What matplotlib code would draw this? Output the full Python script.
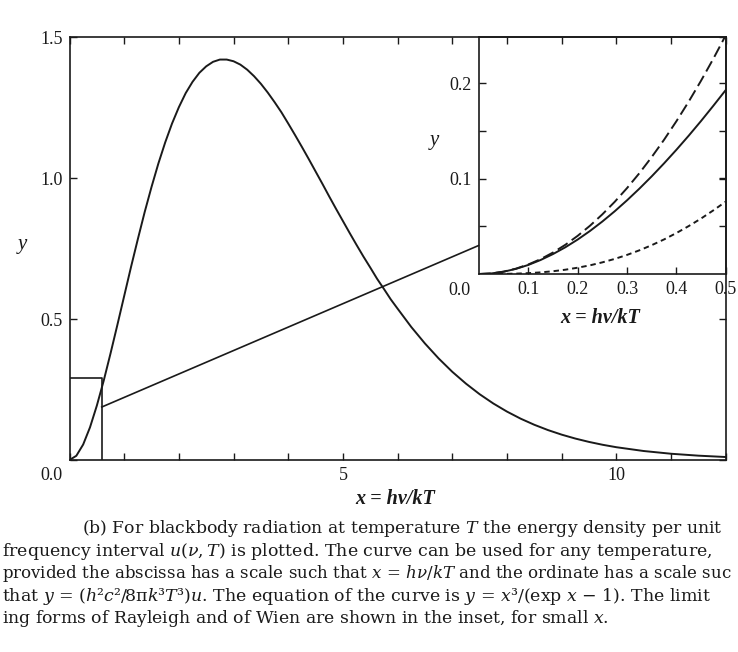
import numpy as np
import matplotlib.pyplot as plt

plt.rcParams['font.family'] = ['Liberation Serif', 'DejaVu Serif']
plt.rcParams['mathtext.fontset'] = 'dejavuserif'

# main curve y = x^3/(exp x - 1)
x_main = [0, 0.125, 0.25, 0.375, 0.5, 0.625, 0.75, 0.875, 1.0, 1.125, 1.25,
          1.375, 1.5, 1.625, 1.75, 1.875, 2.0, 2.125, 2.25, 2.375, 2.5, 2.625,
          2.75, 2.875, 3.0, 3.125, 3.25, 3.375, 3.5, 3.625, 3.75, 3.875, 4.0,
          4.125, 4.25, 4.375, 4.5, 4.625, 4.75, 4.875, 5.0, 5.125, 5.25, 5.375,
          5.5, 5.625, 5.75, 5.875, 6.0, 6.25, 6.5, 6.75, 7.0, 7.25, 7.5, 7.75,
          8.0, 8.25, 8.5, 8.75, 9.0, 9.25, 9.5, 9.75, 10.0, 10.5, 11.0, 11.5,
          12.0]
y_main = [0, 0.015, 0.055, 0.116, 0.193, 0.281, 0.378, 0.479, 0.582, 0.685,
          0.784, 0.880, 0.969, 1.052, 1.127, 1.194, 1.252, 1.302, 1.342, 1.374,
          1.397, 1.413, 1.421, 1.421, 1.415, 1.403, 1.385, 1.362, 1.335, 1.304,
          1.270, 1.234, 1.194, 1.153, 1.111, 1.068, 1.024, 0.980, 0.935, 0.891,
          0.848, 0.805, 0.763, 0.722, 0.683, 0.643, 0.607, 0.570, 0.537, 0.472,
          0.4135, 0.3605, 0.313, 0.271, 0.2335, 0.2006, 0.1718, 0.1467, 0.125,
          0.1062, 0.090, 0.0761, 0.0642, 0.054, 0.0454, 0.0319, 0.0222, 0.0154,
          0.0106]

# the small-x box and the line leading to the inset
box_x = [0, 0.59, 0.59]
box_y = [0.29, 0.29, 0]
link_x = [0.59, 7.48]
link_y = [0.188, 0.761]

# inset: planck, rayleigh (long dash), wien (short dash)
x_ins = [0, 0.025, 0.05, 0.075, 0.1, 0.125, 0.15, 0.175, 0.2, 0.225, 0.25,
         0.275, 0.3, 0.325, 0.35, 0.375, 0.4, 0.425, 0.45, 0.475, 0.5]
y_planck = [0, 0.0006, 0.0024, 0.0054, 0.0095, 0.0147, 0.0209, 0.0280, 0.0361,
            0.0451, 0.0550, 0.0657, 0.0772, 0.0894, 0.1023, 0.1159, 0.1301,
            0.1449, 0.1603, 0.1763, 0.1927]
y_rayleigh = [0, 0.0006, 0.0025, 0.0056, 0.01, 0.0156, 0.0225, 0.0306, 0.04,
              0.0506, 0.0625, 0.0756, 0.09, 0.1056, 0.1225, 0.1406, 0.16,
              0.1806, 0.2025, 0.2256, 0.25]
y_wien = [0, 0.00002, 0.0001, 0.0004, 0.0009, 0.0017, 0.0029, 0.0045, 0.0066,
          0.0091, 0.0122, 0.0158, 0.0200, 0.0248, 0.0302, 0.0362, 0.0429,
          0.0502, 0.0581, 0.0667, 0.0758]

main_xlabels = {5: '5', 10: '10'}
main_yticks = [0, 0.5, 1.0, 1.5]
main_ylabels = ['', '0.5', '1.0', '1.5']
ins_xticks = [0.1, 0.2, 0.3, 0.4, 0.5]
ins_xlabels = ['0.1', '0.2', '0.3', '0.4', '0.5']
ins_yticks = [0.05, 0.1, 0.15, 0.2]
ins_ylabels = ['', '0.1', '', '0.2']

ink = '#1a1a1a'
W, H = 738, 652
tick_fs = 13

fig = plt.figure(figsize=(7.38, 6.52), dpi=100)
ax = fig.add_axes([69.5 / W, 1 - 460 / H, (725.7 - 69.5) / W, (460 - 37.3) / H])
ax.plot(x_main, y_main, color=ink, lw=1.4)
ax.plot(box_x, box_y, color=ink, lw=1.2)
ax.plot(link_x, link_y, color=ink, lw=1.2)
ax.set_xlim(0, 12)
ax.set_ylim(0, 1.5)
ax.set_xticks(np.arange(0, 13, 1))
ax.set_xticklabels([main_xlabels.get(v, '') for v in range(13)])
ax.set_yticks(main_yticks)
ax.set_yticklabels(main_ylabels)
ax.tick_params(direction='in', length=5, width=1, colors=ink, labelsize=tick_fs,
               top=True, right=True, pad=5)
ax.annotate('0.0', xy=(0, 0), xycoords='data', xytext=(-13, -11),
            textcoords='offset points', ha='center', va='center',
            fontsize=tick_fs, color=ink)
for s in ax.spines.values():
    s.set_color(ink)
    s.set_linewidth(1.2)

ins = fig.add_axes([479 / W, 1 - 274 / H, (725.7 - 479) / W, (274 - 37.3) / H])
ins.patch.set_alpha(0)
ins.plot(x_ins, y_planck, color=ink, lw=1.4)
ins.plot(x_ins, y_rayleigh, color=ink, lw=1.4, dashes=(6, 2.6))
ins.plot(x_ins, y_wien, color=ink, lw=1.4, dashes=(2.8, 2.0))
ins.set_xlim(0, 0.5)
ins.set_ylim(0, 0.248)
ins.set_xticks(ins_xticks)
ins.set_xticklabels(ins_xlabels)
ins.set_yticks(ins_yticks)
ins.set_yticklabels(ins_ylabels)
ins.tick_params(direction='in', length=5, width=1, colors=ink, labelsize=tick_fs,
                right=True, pad=5)
ins.annotate('0.0', xy=(0, 0), xycoords='data', xytext=(-14, -12),
             textcoords='offset points', ha='center', va='center',
             fontsize=tick_fs, color=ink)
for s in ins.spines.values():
    s.set_color(ink)
    s.set_linewidth(1.2)

# axis labels
fig.text(22 / W, 1 - 245 / H, 'y', style='italic', fontsize=15, color=ink,
         ha='center', va='center')
fig.text(434 / W, 1 - 140 / H, 'y', style='italic', fontsize=15, color=ink,
         ha='center', va='center')
fig.text(395 / W, 1 - 499 / H, 'x = hν/kT', style='italic', weight='bold',
         fontsize=14.5, color=ink, ha='center', va='center')
fig.text(600 / W, 1 - 318 / H, 'x = hν/kT', style='italic', weight='bold',
         fontsize=14.5, color=ink, ha='center', va='center')

# caption under the figure (right end of lines 3 and 4 is cut by the page edge)
caption = [
    (82, r'(b) For blackbody radiation at temperature $T$ the energy density per unit'),
    (2, r'frequency interval $u(\nu,T)$ is plotted. The curve can be used for any temperature,'),
    (2, r'provided the abscissa has a scale such that $x$ = $h\nu/kT$ and the ordinate has a scale suc'),
    (2, r'that $y$ = ($h$²$c$²/8π$k$³$T$³)$u$. The equation of the curve is $y$ = $x$³/(exp $x$ − 1). The limit'),
    (2, r'ing forms of Rayleigh and of Wien are shown in the inset, for small $x$.'),
]
caption_fs = [12.4, 12.5, 12.0, 12.5, 12.4]
baselines = [533, 555.7, 578.5, 601, 623]
for (x0, line), fs, yb in zip(caption, caption_fs, baselines):
    fig.text(x0 / W, 1 - yb / H, line, fontsize=fs, color=ink, va='baseline',
             family=['DejaVu Serif'])

fig.savefig('out.png', dpi=100)
